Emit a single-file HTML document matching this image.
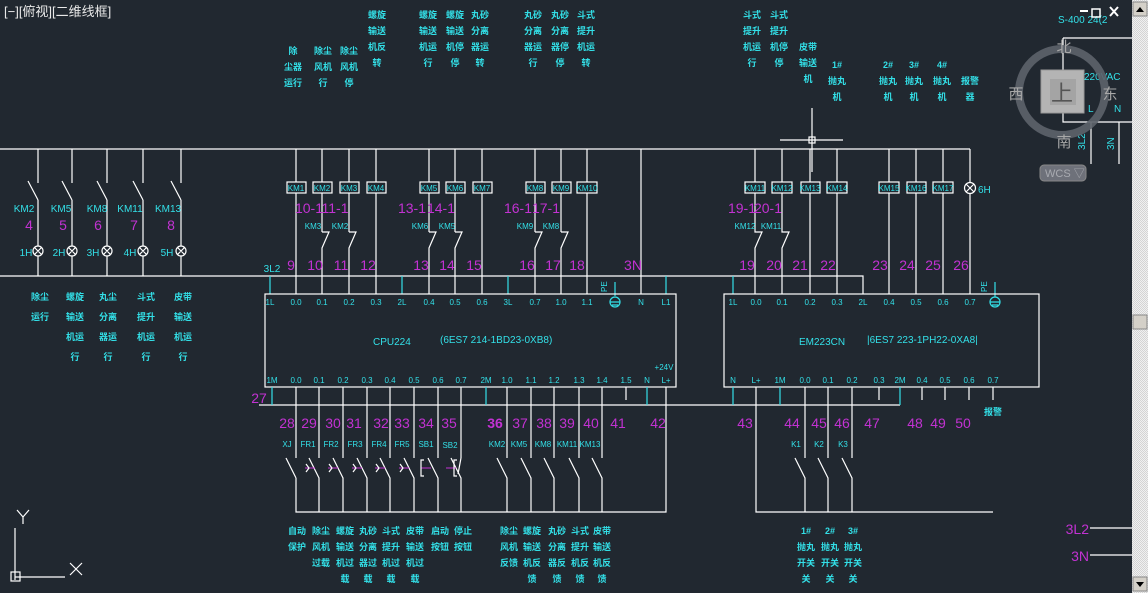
<!DOCTYPE html>
<html><head><meta charset="utf-8"><style>
html,body{margin:0;padding:0;background:#212830;width:1148px;height:593px;overflow:hidden}
svg{display:block}
text{font-family:"Liberation Sans Narrow","Liberation Sans","Noto Sans CJK SC",sans-serif}
.w{stroke:#fff;stroke-width:1.2;fill:none}
.c{stroke:#33e0e8;stroke-width:1.2;fill:none}
.p{fill:#c232d2;font-size:14px}
.k{fill:#33e0e8;font-size:10px}
.t{fill:#33e0e8;font-size:8px}
.z{fill:#33e0e8;font-size:9px;font-weight:bold;font-family:"Noto Sans CJK SC",sans-serif}
.b{fill:#212830;stroke:#fff;stroke-width:1.2}
</style></head><body>
<svg width="1148" height="593" viewBox="0 0 1148 593" xmlns="http://www.w3.org/2000/svg">
<rect width="1148" height="593" fill="#212830"/>
<text x="4" y="16" fill="#e8e8e8" font-size="13" font-family="Liberation Sans,Noto Sans CJK SC,sans-serif">[−][俯视][二维线框]</text>

<g class="z" text-anchor="middle">
<text x="293" y="54">除</text><text x="293" y="70">尘器</text><text x="293" y="86">运行</text>
<text x="323" y="54">除尘</text><text x="323" y="70">风机</text><text x="323" y="86">行</text>
<text x="349" y="54">除尘</text><text x="349" y="70">风机</text><text x="349" y="86">停</text>
<text x="377" y="18">螺旋</text><text x="377" y="34">输送</text><text x="377" y="50">机反</text><text x="377" y="66">转</text>
<text x="428" y="18">螺旋</text><text x="428" y="34">输送</text><text x="428" y="50">机运</text><text x="428" y="66">行</text>
<text x="455" y="18">螺旋</text><text x="455" y="34">输送</text><text x="455" y="50">机停</text><text x="455" y="66">停</text>
<text x="480" y="18">丸砂</text><text x="480" y="34">分离</text><text x="480" y="50">器运</text><text x="480" y="66">转</text>
<text x="533" y="18">丸砂</text><text x="533" y="34">分离</text><text x="533" y="50">器运</text><text x="533" y="66">行</text>
<text x="560" y="18">丸砂</text><text x="560" y="34">分离</text><text x="560" y="50">器停</text><text x="560" y="66">停</text>
<text x="586" y="18">斗式</text><text x="586" y="34">提升</text><text x="586" y="50">机运</text><text x="586" y="66">转</text>
<text x="752" y="18">斗式</text><text x="752" y="34">提升</text><text x="752" y="50">机运</text><text x="752" y="66">行</text>
<text x="779" y="18">斗式</text><text x="779" y="34">提升</text><text x="779" y="50">机停</text><text x="779" y="66">停</text>
<text x="808" y="50">皮带</text><text x="808" y="66">输送</text><text x="808" y="82">机</text>
<text x="837" y="68">1#</text><text x="837" y="84">抛丸</text><text x="837" y="100">机</text>
<text x="888" y="68">2#</text><text x="888" y="84">抛丸</text><text x="888" y="100">机</text>
<text x="914" y="68">3#</text><text x="914" y="84">抛丸</text><text x="914" y="100">机</text>
<text x="942" y="68">4#</text><text x="942" y="84">抛丸</text><text x="942" y="100">机</text>
<text x="970" y="84">报警</text><text x="970" y="100">器</text>
</g>

<path class="w" d="M812 108V172M780 140H843"/>
<rect x="809" y="137" width="6" height="6" class="w"/>

<path class="w" d="M0 149H970M0 276H863V294"/>

<g class="w">
<path d="M38 149V183M28 181L38 200M38 200V276"/>
<path d="M72 149V183M62 181L72 200M72 200V276"/>
<path d="M107 149V183M97 181L107 200M107 200V276"/>
<path d="M143 149V183M133 181L143 200M143 200V276"/>
<path d="M181 149V183M171 181L181 200M181 200V276"/>
</g>
<g fill="#212830" stroke="#fff" stroke-width="1.2">
<circle cx="38" cy="251" r="5"/><circle cx="72" cy="251" r="5"/><circle cx="107" cy="251" r="5"/><circle cx="143" cy="251" r="5"/><circle cx="181" cy="251" r="5"/>
</g>
<path class="w" d="M34.5 247.5l7 7m0-7l-7 7M68.5 247.5l7 7m0-7l-7 7M103.5 247.5l7 7m0-7l-7 7M139.5 247.5l7 7m0-7l-7 7M177.5 247.5l7 7m0-7l-7 7"/>
<g class="k" font-size="12" text-anchor="middle">
<text x="24" y="212">KM2</text><text x="61" y="212">KM5</text><text x="97" y="212">KM8</text><text x="130" y="212">KM11</text><text x="168" y="212">KM13</text>
<text x="26" y="256">1H</text><text x="59" y="256">2H</text><text x="93" y="256">3H</text><text x="130" y="256">4H</text><text x="167" y="256">5H</text>
</g>
<g class="p" text-anchor="middle">
<text x="29" y="230">4</text><text x="63" y="230">5</text><text x="98" y="230">6</text><text x="134" y="230">7</text><text x="171" y="230">8</text>
</g>
<g class="z" text-anchor="middle">
<text x="40" y="300">除尘</text><text x="40" y="320">运行</text>
<text x="75" y="300">螺旋</text><text x="75" y="320">输送</text><text x="75" y="340">机运</text><text x="75" y="360">行</text>
<text x="108" y="300">丸尘</text><text x="108" y="320">分离</text><text x="108" y="340">器运</text><text x="108" y="360">行</text>
<text x="146" y="300">斗式</text><text x="146" y="320">提升</text><text x="146" y="340">机运</text><text x="146" y="360">行</text>
<text x="183" y="300">皮带</text><text x="183" y="320">输送</text><text x="183" y="340">机运</text><text x="183" y="360">行</text>
</g>

<g class="w">
<path d="M296 149V294M322 149V232M349 149V232M376 149V294M429 149V232M455 149V232M482 149V294M535 149V232M561 149V232M587 149V294M641 149V294"/>
<path d="M322 232H329L322 248V294M349 232H356L349 248V294M429 232H436L429 248V294M455 232H462L455 248V294M535 232H542L535 248V294M561 232H568L561 248V294"/>
<path d="M755 149V232H762L755 248V294M782 149V232H789L782 248V294M810 149V294M837 149V294M889 149V294M916 149V294M943 149V294M970 149V182M970 194V294"/>
</g>
<circle cx="970" cy="188" r="5.5" class="b"/><path class="w" d="M966 184l8 8m0-8l-8 8"/>
<text x="978" y="193" class="k" font-size="13">6H</text>
<g class="c">
<path d="M270 276V294M402 276V294M508 276V294M666 276V294M615 282V296M733 276V294"/>
<circle cx="615" cy="302" r="5"/><path d="M610 302H620M612 305H618"/>
<circle cx="995" cy="302" r="5"/><path d="M995 282V297M990 302H1000M992 305H998"/>
</g>
<text x="607" y="292" class="t" font-size="7" transform="rotate(-90 607 292)">PE</text>
<text x="987" y="292" class="t" font-size="7" transform="rotate(-90 987 292)">PE</text>

<g class="b">
<rect x="287" y="182" width="19" height="11"/><rect x="313" y="182" width="19" height="11"/><rect x="340" y="182" width="19" height="11"/><rect x="367" y="182" width="19" height="11"/>
<rect x="420" y="182" width="19" height="11"/><rect x="446" y="182" width="19" height="11"/><rect x="473" y="182" width="19" height="11"/>
<rect x="526" y="182" width="19" height="11"/><rect x="552" y="182" width="19" height="11"/><rect x="577" y="182" width="20" height="11"/>
<rect x="745" y="182" width="20" height="11"/><rect x="772" y="182" width="20" height="11"/><rect x="801" y="182" width="19" height="11"/><rect x="827" y="182" width="20" height="11"/>
<rect x="879" y="182" width="20" height="11"/><rect x="907" y="182" width="19" height="11"/><rect x="933" y="182" width="20" height="11"/>
</g>
<g class="t" text-anchor="middle">
<text x="296" y="191">KM1</text><text x="322" y="191">KM2</text><text x="349" y="191">KM3</text><text x="376" y="191">KM4</text>
<text x="429" y="191">KM5</text><text x="455" y="191">KM6</text><text x="482" y="191">KM7</text>
<text x="535" y="191">KM8</text><text x="561" y="191">KM9</text><text x="587" y="191">KM10</text>
<text x="755" y="191">KM11</text><text x="782" y="191">KM12</text><text x="810" y="191">KM13</text><text x="837" y="191">KM14</text>
<text x="889" y="191">KM15</text><text x="916" y="191">KM16</text><text x="943" y="191">KM17</text>
<text x="313" y="229">KM3</text><text x="340" y="229">KM2</text><text x="420" y="229">KM6</text><text x="447" y="229">KM5</text>
<text x="525" y="229">KM9</text><text x="551" y="229">KM8</text><text x="745" y="229">KM12</text><text x="771" y="229">KM11</text>
</g>
<g class="p" text-anchor="middle">
<text x="309" y="213">10-1</text><text x="335" y="213">11-1</text><text x="412" y="213">13-1</text><text x="441" y="213">14-1</text>
<text x="518" y="213">16-1</text><text x="546" y="213">17-1</text><text x="742" y="213">19-1</text><text x="768" y="213">20-1</text>
<text x="291" y="270">9</text><text x="315" y="270">10</text><text x="341" y="270">11</text><text x="368" y="270">12</text>
<text x="421" y="270">13</text><text x="447" y="270">14</text><text x="474" y="270">15</text>
<text x="527" y="270">16</text><text x="553" y="270">17</text><text x="577" y="270">18</text><text x="633" y="270">3N</text>
<text x="747" y="270">19</text><text x="774" y="270">20</text><text x="800" y="270">21</text><text x="828" y="270">22</text>
<text x="880" y="270">23</text><text x="907" y="270">24</text><text x="933" y="270">25</text><text x="961" y="270">26</text>
</g>
<text x="272" y="272" class="k" font-size="13" text-anchor="middle">3L2</text>

<rect x="265" y="294" width="411" height="93" class="w"/>
<rect x="724" y="294" width="315" height="93" class="w"/>
<g class="t" text-anchor="middle">
<text x="270" y="305">1L</text><text x="296" y="305">0.0</text><text x="322" y="305">0.1</text><text x="349" y="305">0.2</text><text x="376" y="305">0.3</text><text x="402" y="305">2L</text><text x="429" y="305">0.4</text><text x="455" y="305">0.5</text><text x="482" y="305">0.6</text><text x="508" y="305">3L</text><text x="535" y="305">0.7</text><text x="561" y="305">1.0</text><text x="587" y="305">1.1</text><text x="641" y="305">N</text><text x="666" y="305">L1</text>
<text x="272" y="383">1M</text><text x="296" y="383">0.0</text><text x="319" y="383">0.1</text><text x="343" y="383">0.2</text><text x="367" y="383">0.3</text><text x="390" y="383">0.4</text><text x="414" y="383">0.5</text><text x="438" y="383">0.6</text><text x="461" y="383">0.7</text><text x="486" y="383">2M</text><text x="507" y="383">1.0</text><text x="531" y="383">1.1</text><text x="554" y="383">1.2</text><text x="579" y="383">1.3</text><text x="602" y="383">1.4</text><text x="626" y="383">1.5</text><text x="647" y="383">N</text><text x="666" y="383">L+</text><text x="664" y="370">+24V</text>
<text x="733" y="305">1L</text><text x="756" y="305">0.0</text><text x="782" y="305">0.1</text><text x="810" y="305">0.2</text><text x="837" y="305">0.3</text><text x="863" y="305">2L</text><text x="889" y="305">0.4</text><text x="916" y="305">0.5</text><text x="943" y="305">0.6</text><text x="970" y="305">0.7</text>
<text x="733" y="383">N</text><text x="756" y="383">L+</text><text x="780" y="383">1M</text><text x="805" y="383">0.0</text><text x="828" y="383">0.1</text><text x="852" y="383">0.2</text><text x="879" y="383">0.3</text><text x="900" y="383">2M</text><text x="922" y="383">0.4</text><text x="945" y="383">0.5</text><text x="969" y="383">0.6</text><text x="993" y="383">0.7</text>
</g>
<text x="373" y="345" class="k" font-size="14">CPU224</text>
<text x="440" y="343" class="k" font-size="10">(6ES7 214-1BD23-0XB8)</text>
<text x="799" y="345" class="k" font-size="14">EM223CN</text>
<text x="867" y="343" class="k" font-size="10">|6ES7 223-1PH22-0XA8|</text>

<path class="w" d="M259 405H900M296 387V458M286 458L296 478M296 478V512H666V387"/>
<g class="w">
<path d="M319 387V458M309 458L319 478V512M343 387V458M333 458L343 478V512M367 387V458M357 458L367 478V512M390 387V458M380 458L390 478V512M414 387V458M404 458L414 478V512M438 387V458M428 458L438 478V512M461 387V458M451 458L461 478V512"/>
<path d="M507 387V458M497 458L507 478V512M531 387V458M521 458L531 478V512M554 387V458M544 458L554 478V512M579 387V458M569 458L579 478V512M602 387V458M592 458L602 478V512"/>
<path d="M626 387V400"/>
<path d="M756 387V512H993M805 387V458M795 458L805 478V512M828 387V458M818 458L828 478V512M852 387V458M842 458L852 478V512M879 387V400M922 387V400M945 387V400M969 387V400M993 387V400"/>
</g>
<g stroke="#c232d2" stroke-width="1" fill="none">
<path d="M305 468H315M328 468H338M352 468H362M375 468H385M399 468H409M421 468H431M446 468H456"/>
</g>
<path class="w" d="M306 464l3 4-3 4M329 464l3 4-3 4M353 464l3 4-3 4M376 464l3 4-3 4M400 464l3 4-3 4M424 460h-3v16h3M457 460h-3v16h3M461 458l-3 16"/>
<g class="c"><path d="M272 387V405M486 387V405M647 387V405M733 387V405M780 387V405M900 387V405"/></g>
<text x="259" y="403" class="p" text-anchor="middle">27</text>
<g class="p" text-anchor="middle">
<text x="287" y="428">28</text><text x="309" y="428">29</text><text x="333" y="428">30</text><text x="354" y="428">31</text><text x="381" y="428">32</text><text x="402" y="428">33</text><text x="426" y="428">34</text><text x="449" y="428">35</text><text x="495" y="428" font-weight="bold">36</text><text x="520" y="428">37</text><text x="544" y="428">38</text><text x="567" y="428">39</text><text x="591" y="428">40</text><text x="618" y="428">41</text><text x="658" y="428">42</text>
<text x="745" y="428">43</text><text x="792" y="428">44</text><text x="819" y="428">45</text><text x="842" y="428">46</text><text x="872" y="428">47</text><text x="915" y="428">48</text><text x="938" y="428">49</text><text x="963" y="428">50</text>
</g>
<g class="t" font-size="9" text-anchor="middle">
<text x="287" y="447">XJ</text><text x="308" y="447">FR1</text><text x="331" y="447">FR2</text><text x="355" y="447">FR3</text><text x="379" y="447">FR4</text><text x="402" y="447">FR5</text><text x="426" y="447">SB1</text><text x="450" y="448">SB2</text>
<text x="497" y="447">KM2</text><text x="519" y="447">KM5</text><text x="543" y="447">KM8</text><text x="567" y="447">KM11</text><text x="590" y="447">KM13</text>
<text x="796" y="447">K1</text><text x="819" y="447">K2</text><text x="843" y="447">K3</text>
</g>
<g class="z" text-anchor="middle">
<text x="297" y="534">自动</text><text x="297" y="550">保护</text>
<text x="321" y="534">除尘</text><text x="321" y="550">风机</text><text x="321" y="566">过载</text>
<text x="345" y="534">螺旋</text><text x="345" y="550">输送</text><text x="345" y="566">机过</text><text x="345" y="582">载</text>
<text x="368" y="534">丸砂</text><text x="368" y="550">分离</text><text x="368" y="566">器过</text><text x="368" y="582">载</text>
<text x="391" y="534">斗式</text><text x="391" y="550">提升</text><text x="391" y="566">机过</text><text x="391" y="582">载</text>
<text x="415" y="534">皮带</text><text x="415" y="550">输送</text><text x="415" y="566">机过</text><text x="415" y="582">载</text>
<text x="440" y="534">启动</text><text x="440" y="550">按钮</text>
<text x="463" y="534">停止</text><text x="463" y="550">按钮</text>
<text x="509" y="534">除尘</text><text x="509" y="550">风机</text><text x="509" y="566">反馈</text>
<text x="532" y="534">螺旋</text><text x="532" y="550">输送</text><text x="532" y="566">机反</text><text x="532" y="582">馈</text>
<text x="557" y="534">丸砂</text><text x="557" y="550">分离</text><text x="557" y="566">器反</text><text x="557" y="582">馈</text>
<text x="580" y="534">斗式</text><text x="580" y="550">提升</text><text x="580" y="566">机反</text><text x="580" y="582">馈</text>
<text x="602" y="534">皮带</text><text x="602" y="550">输送</text><text x="602" y="566">机反</text><text x="602" y="582">馈</text>
<text x="806" y="534">1#</text><text x="806" y="550">抛丸</text><text x="806" y="566">开关</text><text x="806" y="582">关</text>
<text x="830" y="534">2#</text><text x="830" y="550">抛丸</text><text x="830" y="566">开关</text><text x="830" y="582">关</text>
<text x="853" y="534">3#</text><text x="853" y="550">抛丸</text><text x="853" y="566">开关</text><text x="853" y="582">关</text>
<text x="993" y="415">报警</text>
</g>

<path class="w" d="M1063 38H1132M1063 38V122H1132M1091 122V164M1119 122V164M1090 528H1132M1090 555H1132"/>
<text x="1058" y="23" class="k" font-size="15">S-400 24(2</text>
<text x="1084" y="80" class="k" font-size="13">220VAC</text>
<text x="1088" y="112" class="k" font-size="12">L</text><text x="1114" y="112" class="k" font-size="12">N</text>
<text x="1085" y="150" class="k" font-size="11" transform="rotate(-90 1085 150)">3L2</text>
<text x="1114" y="150" class="k" font-size="11" transform="rotate(-90 1114 150)">3N</text>
<text x="1089" y="534" class="p" font-size="13" text-anchor="end">3L2</text>
<text x="1089" y="561" class="p" font-size="13" text-anchor="end">3N</text>
<circle cx="1062" cy="92" r="43" fill="none" stroke="#5d636b" stroke-width="8" opacity="0.9"/>
<rect x="1041" y="70" width="43" height="43" fill="#b4b4b4" stroke="#999"/>
<rect x="1050" y="79" width="26" height="26" fill="#a4a4a4"/>
<text x="1062" y="101" fill="#555" font-size="22" text-anchor="middle" font-family="Noto Sans CJK SC,sans-serif">上</text>
<g fill="#a8a8a8" font-size="15" text-anchor="middle" font-family="Noto Sans CJK SC,sans-serif">
<text x="1064" y="52">北</text><text x="1064" y="147">南</text><text x="1016" y="99">西</text><text x="1110" y="99">东</text>
</g>
<rect x="1040" y="165" width="46" height="16" rx="4" fill="#6e717a" stroke="#888"/>
<text x="1045" y="177" fill="#a8aab0" font-size="11">WCS ▽</text>
<rect x="1080" y="10" width="8" height="2" fill="#fff"/>
<rect x="1092" y="9" width="8" height="8" fill="none" stroke="#fff" stroke-width="1.5"/>
<path d="M1110 7l8 9m0-9l-8 9" stroke="#fff" stroke-width="2"/>
<defs><pattern id="ck" width="2" height="2" patternUnits="userSpaceOnUse"><rect width="2" height="2" fill="#f0f0f0"/><rect width="1" height="1" fill="#d4d4d4"/><rect x="1" y="1" width="1" height="1" fill="#d4d4d4"/></pattern></defs>
<rect x="1132" y="0" width="16" height="593" fill="url(#ck)"/>
<rect x="1133" y="2" width="14" height="14" fill="#d4d0c8" stroke="#888"/>
<path d="M1136 12l4-5 4 5z" fill="#000"/>
<rect x="1133" y="315" width="14" height="14" fill="#d4d0c8" stroke="#888"/>
<rect x="1133" y="577" width="14" height="14" fill="#d4d0c8" stroke="#888"/>
<path d="M1136 582l4 5 4-5z" fill="#000"/>
<path class="w" d="M15 528V580M15 577H65M17 510l6 7 6-7M23 517v7M70 563l12 12m0-12l-12 12"/>
<rect x="11" y="572" width="9" height="9" class="w"/>
</svg>
</body></html>
